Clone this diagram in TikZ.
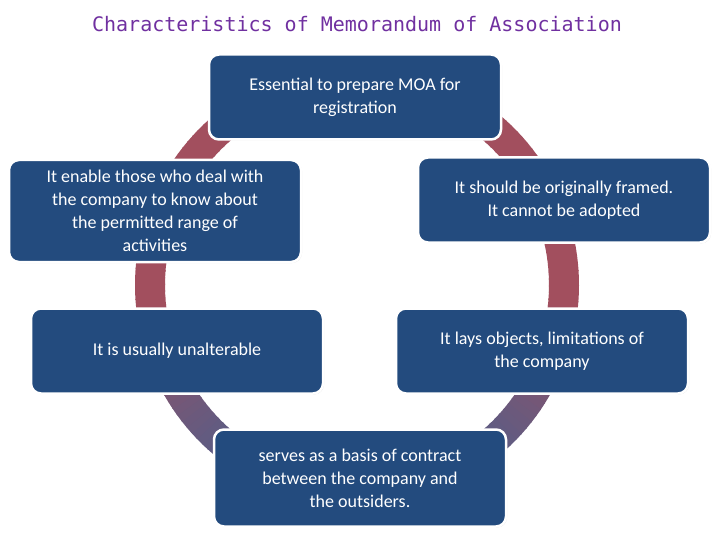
\documentclass[tikz,border=0pt]{standalone}
\usepackage{fontspec}
\setmainfont{Carlito}
\newfontfamily\titlefont{DejaVu Sans Mono}
\usetikzlibrary{shadows}
\definecolor{boxblue}{HTML}{234B7E}
\definecolor{ringblue}{HTML}{3B6296}
\definecolor{ringred}{HTML}{A24F5E}
\definecolor{titlepurple}{HTML}{7030A0}
\tikzset{
  box/.style={draw=white, line width=2.5pt, fill=boxblue, rounded corners=10pt,
    text=white, align=center, font=\fontsize{18}{23}\selectfont,
    minimum width=292pt, minimum height=#1, inner sep=2pt,
    drop shadow={shadow xshift=1pt, shadow yshift=-1pt, opacity=0.25}},
  box/.default=85pt
}
\begin{document}
\begin{tikzpicture}[x=1pt, y=-1pt]
  \useasboundingbox (0,0) rectangle (720,540);
  % ring, blue at top fading to red at bottom
  \foreach \a in {0,2,...,358}{
    \pgfmathsetmacro{\mix}{max(0,min(100,100*(0.55-0.5*sin(\a+1))/0.5))}
    \draw[line width=30pt, color=ringred!\mix!ringblue] (357,285) ++(\a:207) arc[start angle=\a, end angle=\a+2.4, radius=207];
  }
  \node[text=titlepurple, font=\titlefont\fontsize{20}{24}\selectfont] (title) at (357,24) {Characteristics of Memorandum of Association};
  \node[box] (moa) at (355,97) {Essential to prepare MOA for\\registration};
  \node[box=102pt] (deal) at (155,211) {It enable those who deal with\\the company to know about\\the permitted range of\\activities};
  \node[box] (framed) at (564,200) {It should be originally framed.\\It cannot be adopted};
  \node[box] (unalter) at (177,351) {It is usually unalterable};
  \node[box] (objects) at (542,351) {It lays objects, limitations of\\the company};
  \node[box=97pt] (contract) at (360,478) {serves as a basis of contract\\between the company and\\the outsiders.};
\end{tikzpicture}
\end{document}
